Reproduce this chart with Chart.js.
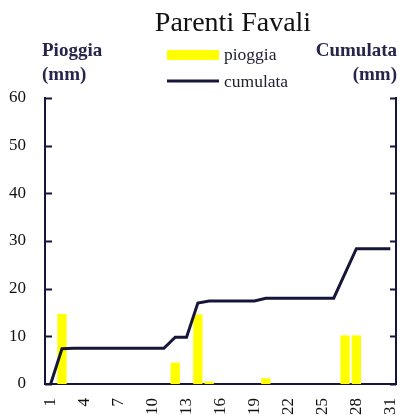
<!DOCTYPE html>
<html>
<head>
<meta charset="utf-8">
<script src="https://cdn.jsdelivr.net/npm/chart.js@4"></script>
<style>
  html, body { margin: 0; padding: 0; background: #ffffff; }
  #wrap { width: 405px; height: 418px; }
</style>
</head>
<body>
<div id="wrap"><canvas id="rainChart" width="405" height="418"></canvas></div>
<script>
// dati
const giorni = ["1","2","3","4","5","6","7","8","9","10","11","12","13","14","15","16",
  "17","18","19","20","21","22","23","24","25","26","27","28","29","30","31"];
const pioggia = [0, 14.7, 0, 0, 0, 0, 0, 0, 0, 0, 0, 4.5, 0, 14.6, 0.5, 0,
  0, 0, 0, 1.2, 0, 0, 0, 0, 0, 0, 10.2, 10.2, 0, 0, 0];
const cumulata = [0, 7.4, 7.5, 7.5, 7.5, 7.5, 7.5, 7.5, 7.5, 7.5, 7.5, 9.8, 9.8, 17.0, 17.4, 17.4,
  17.4, 17.4, 17.4, 18.0, 18.0, 18.0, 18.0, 18.0, 18.0, 18.0, 23.2, 28.4, 28.4, 28.4, 28.4];
const yTicks = [0, 10, 20, 30, 40, 50, 60];

const NAVY = "#16163a";
const SERIF = "'Liberation Serif', 'DejaVu Serif', serif";

// titolo, legenda, titoli assi e tacche interne
const decorPlugin = {
  id: "decor",
  afterDraw(chart) {
    const ctx = chart.ctx;
    const area = chart.chartArea;
    const yL = chart.scales.y;
    ctx.save();

    // tacche verso l'interno
    ctx.strokeStyle = NAVY;
    ctx.lineWidth = 2;
    yTicks.forEach((v) => {
      const py = Math.round(yL.getPixelForValue(v)) + 0.5;
      ctx.beginPath();
      ctx.moveTo(area.left, py);
      ctx.lineTo(area.left + 7, py);
      ctx.moveTo(area.right - 6, py);
      ctx.lineTo(area.right, py);
      ctx.stroke();
    });

    // titolo
    ctx.fillStyle = "#111111";
    ctx.font = "28px " + SERIF;
    ctx.textAlign = "center";
    ctx.textBaseline = "alphabetic";
    ctx.fillText("Parenti Favali", 233, 31);

    // titoli assi
    ctx.fillStyle = "#26264a";
    ctx.font = "bold 19px " + SERIF;
    ctx.textAlign = "left";
    ctx.fillText("Pioggia", 42, 56);
    ctx.fillText("(mm)", 42, 80);
    ctx.textAlign = "right";
    ctx.fillText("Cumulata", 397, 56);
    ctx.fillText("(mm)", 397, 80);

    // legenda
    ctx.fillStyle = "#ffff00";
    ctx.fillRect(167, 50, 52, 10);
    ctx.strokeStyle = NAVY;
    ctx.lineWidth = 3;
    ctx.beginPath();
    ctx.moveTo(167, 81);
    ctx.lineTo(219, 81);
    ctx.stroke();
    ctx.fillStyle = "#222233";
    ctx.font = "17.5px " + SERIF;
    ctx.textAlign = "left";
    ctx.fillText("pioggia", 224, 60);
    ctx.fillText("cumulata", 224, 87);

    ctx.restore();
  },
};

const ctx = document.getElementById("rainChart").getContext("2d");
new Chart(ctx, {
  type: "bar",
  data: {
    labels: giorni,
    datasets: [
      {
        type: "line",
        label: "cumulata",
        data: cumulata,
        yAxisID: "y2",
        borderColor: NAVY,
        borderWidth: 3,
        pointRadius: 0,
        tension: 0,
        fill: false,
        order: 0,
      },
      {
        label: "pioggia",
        data: pioggia,
        yAxisID: "y",
        backgroundColor: "#ffff00",
        borderWidth: 0,
        barPercentage: 0.82,
        categoryPercentage: 1.0,
        order: 1,
      },
    ],
  },
  options: {
    responsive: false,
    animation: false,
    layout: { padding: { top: 98, left: 0, right: 0, bottom: 0 } },
    plugins: {
      legend: { display: false },
      title: { display: false },
      tooltip: { enabled: false },
    },
    scales: {
      x: {
        offset: true,
        grid: { display: false, drawTicks: false },
        border: { display: true, color: NAVY, width: 2 },
        ticks: {
          autoSkip: false,
          minRotation: 90,
          maxRotation: 90,
          padding: 14,
          color: "#111111",
          font: { family: SERIF, size: 17 },
          callback: function (value, index) {
            return index % 3 === 0 ? this.getLabelForValue(value) : "";
          },
        },
        afterFit: (scale) => {
          scale.height = 34;
          scale.paddingLeft = 0;
          scale.paddingRight = 0;
        },
      },
      y: {
        position: "left",
        min: 0,
        max: 60,
        grid: { display: false, drawTicks: false },
        border: { display: true, color: NAVY, width: 2 },
        ticks: {
          stepSize: 10,
          padding: 19,
          color: "#111111",
          font: { family: SERIF, size: 17 },
        },
        afterFit: (scale) => { scale.width = 45; },
      },
      y2: {
        position: "right",
        min: 0,
        max: 60,
        grid: { display: false, drawTicks: false },
        border: { display: true, color: NAVY, width: 2 },
        ticks: { display: false, stepSize: 10 },
        afterFit: (scale) => { scale.width = 9; },
      },
    },
  },
  plugins: [decorPlugin],
});
</script>
</body>
</html>
